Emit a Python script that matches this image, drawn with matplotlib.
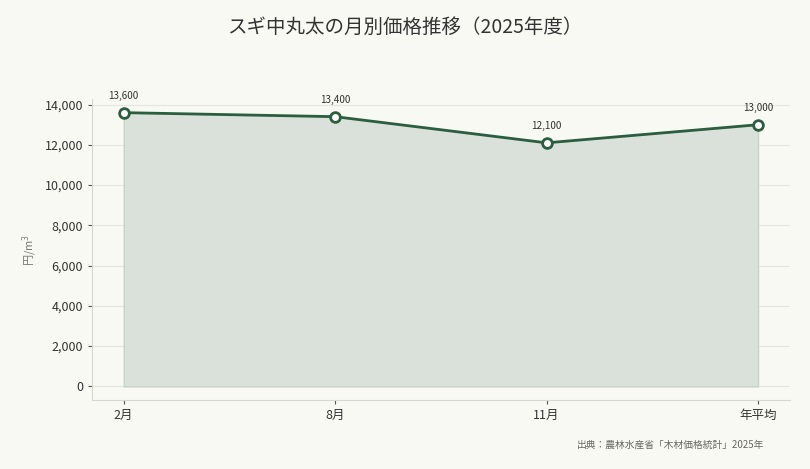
import matplotlib
matplotlib.use("Agg")
import matplotlib.pyplot as plt
from matplotlib.ticker import FuncFormatter

plt.rcParams['font.family'] = ['Noto Sans CJK JP', 'DejaVu Sans']

# ── Data ──────────────────────────────────────────────────────────────────────
months = ["2月", "8月", "11月", "年平均"]
prices = [13600, 13400, 12100, 13000]

BG = "#f9f9f4"
LINE = "#2b5e3f"
FILL = "#dae1da"

fig = plt.figure(figsize=(8.1, 4.69), dpi=100, facecolor=BG)
ax = fig.add_axes([0.1136, 0.147, 0.8614, 0.642])
ax.set_facecolor(BG)

x = range(len(months))
ax.fill_between(x, prices, 0, color=FILL, edgecolor="#c8d3c8", linewidth=1, zorder=1)
ax.plot(x, prices, color=LINE, linewidth=2.0, marker="o", markersize=7,
        markerfacecolor="white", markeredgecolor=LINE, markeredgewidth=2.0, zorder=3)

# value labels above each point
for xi, v in zip(x, prices):
    ax.annotate(f"{v:,}", (xi, v), xytext=(0, 8.5), textcoords="offset points",
                ha="center", va="bottom", fontsize=7.2, color="#333333")

ax.set_xticks(list(x))
ax.set_xticklabels(months)
ax.set_yticks(range(0, 14001, 2000))
ax.yaxis.set_major_formatter(FuncFormatter(lambda v, _: f"{int(v):,}"))
ax.margins(x=0.05, y=0.05)

ax.grid(axis="y", color="#e6e6e0", linewidth=0.8)
ax.set_axisbelow(True)
for s in ["top", "right"]:
    ax.spines[s].set_visible(False)
for s in ["left", "bottom"]:
    ax.spines[s].set_color("#d8d8d0")
ax.tick_params(axis="both", labelsize=9, colors="#333333", length=3)
ax.tick_params(axis="both", color="#555555")

ax.set_ylabel("円/m$^3$", fontsize=8, color="#777777")

fig.suptitle("スギ中丸太の月別価格推移（2025年度）", fontsize=14, color="#333333", y=0.965)
fig.text(0.943, 0.052, "出典：農林水産省「木材価格統計」2025年", ha="right", va="center",
         fontsize=7, color="#666666")

fig.savefig("out.png", dpi=100, facecolor=BG)
